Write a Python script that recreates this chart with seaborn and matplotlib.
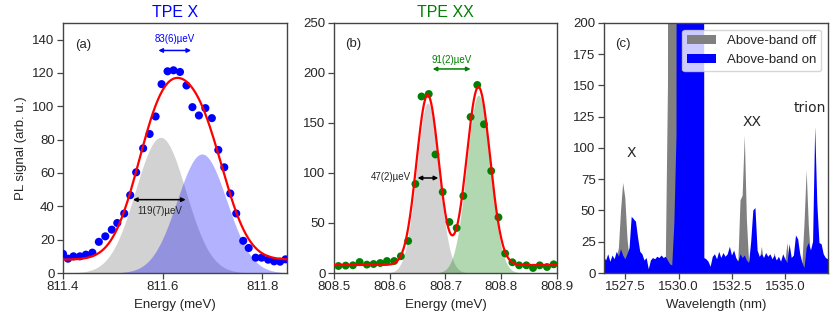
import numpy as np
import matplotlib
matplotlib.use("Agg")
import matplotlib.pyplot as plt
import seaborn as sns

# panel (a): TPE X data
x_a = [811.400, 811.410, 811.421, 811.434, 811.446, 811.459, 811.472, 811.485, 811.498,
       811.509, 811.523, 811.535, 811.547, 811.561, 811.574, 811.586, 811.598, 811.610,
       811.622, 811.635, 811.648, 811.660, 811.673, 811.686, 811.699, 811.712, 811.724,
       811.736, 811.748, 811.762, 811.773, 811.787, 811.799, 811.812, 811.824, 811.836,
       811.847]
y_a = [11.5, 8.6, 10, 10, 11, 12.2, 18.7, 22, 26, 30, 35.7, 46.7, 60.4, 74.8, 83.4,
       93.9, 113.3, 121, 121.6, 120.6, 112.5, 99.5, 94.5, 98.9, 92.9, 73.8, 63.4, 47.7,
       35.7, 19.3, 15, 9.2, 9.2, 8, 7, 6.8, 8.2]
# fit parameters (center, amplitude, sigma) + offset
fit_a1 = (811.596, 81.4, 0.0505)
fit_a2 = (811.679, 71.4, 0.050)
offset_a = 8.0

# panel (b): TPE XX data
x_b = [808.508, 808.521, 808.534, 808.546, 808.559, 808.571, 808.583, 808.595, 808.608,
       808.620, 808.633, 808.646, 808.657, 808.670, 808.682, 808.695, 808.707, 808.720,
       808.732, 808.745, 808.757, 808.769, 808.782, 808.795, 808.807, 808.820, 808.832,
       808.845, 808.857, 808.869, 808.882, 808.894]
y_b = [7, 7.4, 7.7, 11, 8.4, 9, 10, 12, 12, 16.8, 32, 89, 176.5, 179, 118.5, 81, 51, 45,
       77, 156, 188, 148.7, 102, 55.7, 19.5, 10.7, 7.7, 7.7, 5, 7.7, 6, 8.7]
fit_b1 = (808.668, 170, 0.020)
fit_b2 = (808.759, 178, 0.021)
offset_b = 8.0

# panel (c): spectra, 0.1 nm steps from 1526.5 to 1537.0
wl_start, wl_stop = 1526.5, 1537.0
band_on = [13, 10, 15, 9, 14, 11, 17, 13, 19, 14,            # 1526.5-1527.4
           11, 15, 20, 45, 43, 41, 28, 17, 15, 10,           # 1527.5-1528.4
           12, 3, 10, 12, 11, 13, 12, 14, 12, 13,            # 1528.5-1529.4
           10, 7, 6, 40, 110, 3000, 3000, 3000, 3000, 3000,  # 1529.5-1530.4
           3000, 3000, 3000, 3000, 3000, 3000, 3000, 12, 11, 9,  # 1530.5-1531.4
           5, 13, 15, 11, 17, 12, 16, 13, 15, 21,            # 1531.5-1532.4
           14, 18, 12, 9, 15, 12, 14, 10, 8, 25,             # 1532.5-1533.4
           50, 52, 18, 13, 15, 12, 16, 13, 15, 11,           # 1533.5-1534.4
           14, 10, 13, 9, 15, 11, 8, 23, 12, 14,             # 1534.5-1535.4
           30, 27, 15, 8, 4, 20, 24, 18, 25, 117,            # 1535.5-1536.4
           55, 24, 23, 15, 12, 11]                           # 1536.5-1537.0
band_off = [10, 8, 12, 7, 11, 9, 12, 20, 50, 72,             # 1526.5-1527.4
            60, 28, 10, 12, 11, 10, 9, 8, 7, 6,              # 1527.5-1528.4
            8, 2, 7, 9, 8, 10, 9, 11, 10, 12,                # 1528.5-1529.4
            150, 3000, 3000, 3000, 3000, 3000, 3000, 3000, 3000, 3000,  # 1529.5-1530.4
            3000, 3000, 3000, 3000, 3000, 3000, 3000, 9, 8, 7,  # 1530.5-1531.4
            4, 10, 12, 8, 13, 9, 12, 10, 12, 16,             # 1531.5-1532.4
            11, 14, 9, 10, 58, 62, 110, 42, 9, 10,           # 1532.5-1533.4
            12, 12, 10, 10, 21, 9, 12, 10, 12, 8,            # 1533.5-1534.4
            16, 8, 10, 7, 12, 9, 24, 9, 9, 11,               # 1534.5-1535.4
            20, 20, 12, 8, 40, 82, 38, 12, 12, 15,           # 1535.5-1536.4
            20, 18, 18, 12, 10, 9]                           # 1536.5-1537.0


def gauss(x, p):
    c, a, s = p
    return a * np.exp(-(x - c) ** 2 / (2 * s ** 2))


sns.set_style("ticks")
plt.rcParams['font.family'] = ['Liberation Sans', 'DejaVu Sans']
plt.rcParams['xtick.labelsize'] = 9.5
plt.rcParams['ytick.labelsize'] = 9.5

fig = plt.figure(figsize=(8.31, 3.21), dpi=100)
ax1 = fig.add_axes([0.0758, 0.1495, 0.2696, 0.779])
ax2 = fig.add_axes([0.4019, 0.1495, 0.2684, 0.779])
ax3 = fig.add_axes([0.7268, 0.1495, 0.2696, 0.779])

# --- (a)
xf = np.linspace(811.4, 811.85, 400)
g1 = gauss(xf, fit_a1)
g2 = gauss(xf, fit_a2)
ax1.fill_between(xf, 0, g1, color='gray', alpha=0.35, lw=0)
ax1.fill_between(xf, 0, g2, color='blue', alpha=0.3, lw=0)
sns.scatterplot(x=x_a, y=y_a, ax=ax1, color='blue', s=34, edgecolor='none', zorder=3)
sns.lineplot(x=xf, y=offset_a + g1 + g2, ax=ax1, color='red', lw=1.6, zorder=4)
ax1.set_xlim(811.4, 811.85)
ax1.set_ylim(0, 150)
ax1.set_xticks([811.4, 811.6, 811.8])
ax1.set_yticks(range(0, 141, 20))
ax1.set_xlabel('Energy (meV)', fontsize=9.5)
ax1.set_ylabel('PL signal (arb. u.)', fontsize=9.5)
ax1.set_title('TPE X', color='blue', fontsize=11.5, pad=4)
ax1.text(811.425, 137, '(a)', fontsize=9.5, va='center')
ax1.annotate('', xy=(811.535, 44), xytext=(811.652, 44),
             arrowprops=dict(arrowstyle='<|-|>', color='black', lw=1.1, mutation_scale=6))
ax1.text(811.594, 37, '119(7)µeV', fontsize=7, ha='center', va='center')
ax1.annotate('', xy=(811.586, 133.5), xytext=(811.663, 133.5),
             arrowprops=dict(arrowstyle='<|-|>', color='blue', lw=1.1, mutation_scale=6))
ax1.text(811.625, 140.5, '83(6)µeV', fontsize=7, ha='center', va='center', color='blue')

# --- (b)
xf = np.linspace(808.5, 808.9, 400)
h1 = gauss(xf, fit_b1)
h2 = gauss(xf, fit_b2)
ax2.fill_between(xf, 0, h1, color='gray', alpha=0.35, lw=0)
ax2.fill_between(xf, 0, h2, color='green', alpha=0.3, lw=0)
sns.scatterplot(x=x_b, y=y_b, ax=ax2, color='green', s=32, edgecolor='none', zorder=3)
sns.lineplot(x=xf, y=offset_b + h1 + h2, ax=ax2, color='red', lw=1.6, zorder=4)
ax2.set_xlim(808.5, 808.9)
ax2.set_ylim(0, 250)
ax2.set_xticks([808.5, 808.6, 808.7, 808.8, 808.9])
ax2.set_yticks(range(0, 251, 50))
ax2.set_xlabel('Energy (meV)', fontsize=9.5)
ax2.set_title('TPE XX', color='green', fontsize=11.5, pad=4)
ax2.text(808.52, 229, '(b)', fontsize=9.5, va='center')
ax2.annotate('', xy=(808.645, 95), xytext=(808.692, 95),
             arrowprops=dict(arrowstyle='<|-|>', color='black', lw=1.1, mutation_scale=6))
ax2.text(808.638, 96, '47(2)µeV', fontsize=7, ha='right', va='center')
ax2.annotate('', xy=(808.672, 204), xytext=(808.750, 204),
             arrowprops=dict(arrowstyle='<|-|>', color='green', lw=1.1, mutation_scale=6))
ax2.text(808.711, 213, '91(2)µeV', fontsize=7, ha='center', va='center', color='green')

# --- (c)
wl = np.linspace(wl_start, wl_stop, len(band_on))
ax3.fill_between(wl, 0, band_off, color='gray', lw=0, label='Above-band off')
ax3.fill_between(wl, 0, band_on, color='blue', lw=0, label='Above-band on')
ax3.set_xlim(1526.5, 1537.0)
ax3.set_ylim(0, 200)
ax3.set_xticks([1527.5, 1530.0, 1532.5, 1535.0])
ax3.set_xticklabels(['1527.5', '1530.0', '1532.5', '1535.0'])
ax3.set_yticks(range(0, 201, 25))
ax3.set_xlabel('Wavelength (nm)', fontsize=9.5)
ax3.text(1527.0, 183, '(c)', fontsize=9.5, va='center')
ax3.text(1527.8, 96, 'X', fontsize=10, ha='center', va='center', family='DejaVu Sans')
ax3.text(1533.45, 121, 'XX', fontsize=10, ha='center', va='center', family='DejaVu Sans')
ax3.text(1536.15, 132, 'trion', fontsize=10, ha='center', va='center', family='DejaVu Sans')
ax3.legend(loc='upper right', fontsize=9.5, framealpha=0.8, handlelength=2.2,
           borderaxespad=0.5)

for ax in (ax1, ax2, ax3):
    for sp in ax.spines.values():
        sp.set_color('#444444')
        sp.set_linewidth(1.0)
    ax.tick_params(length=4, width=0.9, color='#444444', pad=2)

fig.savefig('out.png', dpi=100)
